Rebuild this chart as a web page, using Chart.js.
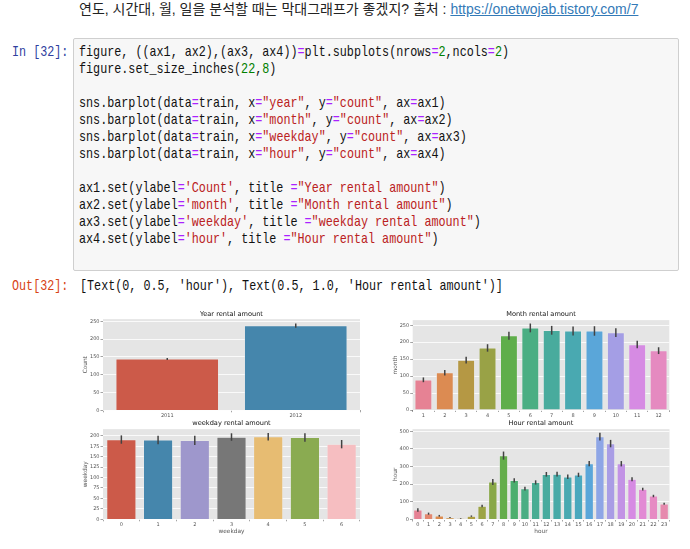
<!DOCTYPE html>
<html>
<head>
<meta charset="utf-8">
<script src="https://cdn.jsdelivr.net/npm/chart.js@4.4.1/dist/chart.umd.min.js"></script>
<style>
  html, body { margin: 0; padding: 0; background: #fff; width: 690px; height: 549px; overflow: hidden; }
  .abs { position: absolute; }
  #intro { left: 79px; top: 0; font-family: "Liberation Sans", "Noto Sans CJK KR", sans-serif; font-size: 14px; line-height: 19px; color: #222; white-space: nowrap; }
  #intro a { color: #337ab7; text-decoration: underline; }
  .mono { font-family: "Liberation Mono", "DejaVu Sans Mono", monospace; font-size: 15px; line-height: 17px; white-space: pre; transform: scaleX(0.783); transform-origin: 0 0; }
  #inp { left: 12px; top: 43.5px; color: #303F9F; }
  #outp { left: 12px; top: 277.5px; color: #D84315; }
  #box { left: 73px; top: 38px; width: 604px; height: 231px; background: #f7f7f7; border: 1px solid #cfcfcf; border-radius: 2px; }
  #code { left: 79px; top: 43.5px; color: #111; }
  #outtxt { left: 80px; top: 277.5px; color: #111; }
  .o { color: #AA22FF; }
  .s { color: #BA2121; }
  .m { color: #008000; }
  canvas { position: absolute; }
</style>
</head>
<body>
<div id="intro" class="abs">연도, 시간대, 월, 일을 분석할 때는 막대그래프가 좋겠지? 출처 : <a href="#">https://onetwojab.tistory.com/7</a></div>
<div id="inp" class="abs mono">In [32]:</div>
<div id="box" class="abs"></div>
<div id="code" class="abs mono">figure, ((ax1, ax2),(ax3, ax4))<span class="o">=</span>plt.subplots(nrows<span class="o">=</span><span class="m">2</span>,ncols<span class="o">=</span><span class="m">2</span>)
figure.set_size_inches(<span class="m">22</span>,<span class="m">8</span>)

sns.barplot(data<span class="o">=</span>train, x<span class="o">=</span><span class="s">"year"</span>, y<span class="o">=</span><span class="s">"count"</span>, ax<span class="o">=</span>ax1)
sns.barplot(data<span class="o">=</span>train, x<span class="o">=</span><span class="s">"month"</span>, y<span class="o">=</span><span class="s">"count"</span>, ax<span class="o">=</span>ax2)
sns.barplot(data<span class="o">=</span>train, x<span class="o">=</span><span class="s">"weekday"</span>, y<span class="o">=</span><span class="s">"count"</span>, ax<span class="o">=</span>ax3)
sns.barplot(data<span class="o">=</span>train, x<span class="o">=</span><span class="s">"hour"</span>, y<span class="o">=</span><span class="s">"count"</span>, ax<span class="o">=</span>ax4)

ax1.set(ylabel<span class="o">=</span><span class="s">'Count'</span>, title <span class="o">=</span><span class="s">"Year rental amount"</span>)
ax2.set(ylabel<span class="o">=</span><span class="s">'month'</span>, title <span class="o">=</span><span class="s">"Month rental amount"</span>)
ax3.set(ylabel<span class="o">=</span><span class="s">'weekday'</span>, title <span class="o">=</span><span class="s">"weekday rental amount"</span>)
ax4.set(ylabel<span class="o">=</span><span class="s">'hour'</span>, title <span class="o">=</span><span class="s">"Hour rental amount"</span>)</div>
<div id="outp" class="abs mono">Out[32]:</div>
<div id="outtxt" class="abs mono">[Text(0, 0.5, 'hour'), Text(0.5, 1.0, 'Hour rental amount')]</div>

<canvas id="c1" width="305" height="117" style="left:60px;top:305px;width:305px;height:117px"></canvas>
<canvas id="c2" width="305" height="117" style="left:370px;top:305px;width:305px;height:117px"></canvas>
<canvas id="c3" width="305" height="130" style="left:60px;top:415px;width:305px;height:130px"></canvas>
<canvas id="c4" width="305" height="130" style="left:370px;top:415px;width:305px;height:130px"></canvas>

<script>
// ---- data ----
const yearLabels = ['2011', '2012'];
const yearCounts = [144, 238];
const yearErr = [3, 6];

const monthLabels = ['1', '2', '3', '4', '5', '6', '7', '8', '9', '10', '11', '12'];
const monthCounts = [89, 110, 147, 183, 219, 242, 235, 233, 233, 228, 193, 175];
const monthErr = [7, 8, 10, 11, 12, 13, 13, 13, 14, 13, 11, 10];

const weekdayLabels = ['0', '1', '2', '3', '4', '5', '6'];
const weekdayCounts = [191, 190, 189, 197, 198, 196, 180];
const weekdayErr = [10, 10, 11, 9, 9, 10, 10];

const hourLabels = ['0','1','2','3','4','5','6','7','8','9','10','11','12','13','14','15','16','17','18','19','20','21','22','23'];
const hourCounts = [54, 33, 21, 11, 6, 19, 76, 213, 362, 222, 175, 210, 256, 257, 242, 253, 316, 469, 430, 316, 228, 172, 133, 89];
const hourErr = [10, 6, 5, 3, 2, 4, 7, 17, 23, 12, 11, 12, 13, 13, 13, 12, 15, 22, 21, 15, 11, 8, 7, 6];

const yTicks1 = { max: 256, step: 50 };
const yTicks2 = { max: 265, step: 50 };
const yTicks3 = { max: 216, step: 25 };
const yTicks4 = { max: 512, step: 100 };

// ---- styles ----
const yearColors = ['#cc5a49', '#4586ac'];
const monthColors = ['#e68294', '#dc8b52', '#b59844', '#99a246', '#5fae4b', '#4aae83', '#48ab9d', '#49a9b1', '#5aa6d9', '#a49ee5', '#d68be3', '#e58ac0'];
const weekdayColors = ['#cc5a49', '#4586ac', '#9e97cc', '#777777', '#e7bc72', '#8aab51', '#f6bec1'];
const hourColors = ['#e68294', '#e3876f', '#dc8b4f', '#cc9144', '#c09943', '#ae9e43', '#9ca445', '#89a847', '#64ad4b', '#4cae6e', '#4aae84', '#49ad93', '#48ab9e', '#48aaa7', '#49a9b1', '#4aa8bd', '#5aa6d9', '#8ea6e6', '#a99de5', '#c293e5', '#d68be3', '#e28ad4', '#e68bc3', '#e68aae'];

Chart.defaults.font.family = 'DejaVu Sans';

const bgPlugin = {
  id: 'ggBg',
  beforeDraw(chart) {
    const a = chart.chartArea, ctx = chart.ctx;
    ctx.save();
    ctx.fillStyle = '#E5E5E5';
    ctx.fillRect(a.left, a.top, a.right - a.left, a.bottom - a.top);
    ctx.restore();
  }
};

const errPlugin = {
  id: 'errBars',
  afterDatasetsDraw(chart) {
    const ds = chart.data.datasets[0];
    const xs = chart.scales.x, ys = chart.scales.y, ctx = chart.ctx;
    ctx.save();
    ctx.strokeStyle = '#424242';
    ctx.lineWidth = 1.5;
    ds.data.forEach((v, i) => {
      const px = xs.getPixelForValue(i);
      ctx.beginPath();
      ctx.moveTo(px, ys.getPixelForValue(v - ds.errors[i]));
      ctx.lineTo(px, ys.getPixelForValue(v + ds.errors[i]));
      ctx.stroke();
    });
    ctx.restore();
  }
};

function makeChart(id, labels, values, errs, colors, yt, cfg) {
  new Chart(document.getElementById(id), {
    type: 'bar',
    data: {
      labels: labels,
      datasets: [{
        data: values,
        errors: errs,
        backgroundColor: colors,
        borderColor: '#eeeeee',
        borderWidth: 0.6,
        categoryPercentage: 0.8,
        barPercentage: 1
      }]
    },
    plugins: [bgPlugin, errPlugin],
    options: {
      responsive: false,
      animation: false,
      events: [],
      layout: { padding: { left: 0, right: cfg.pr, top: 0, bottom: 0 } },
      plugins: {
        legend: { display: false },
        tooltip: { enabled: false },
        title: {
          display: true, text: cfg.title, fullSize: false, color: '#111',
          font: { size: 6.6, weight: 'normal' },
          padding: { top: cfg.tt, bottom: cfg.tb }
        }
      },
      scales: {
        x: {
          grid: { display: true, drawOnChartArea: false, tickLength: 2, tickColor: '#666', tickWidth: 0.6 },
          border: { display: false },
          ticks: { color: '#555', font: { size: 5 }, padding: 0.5, autoSkip: false, maxRotation: 0 },
          title: cfg.xTitle ? { display: true, text: cfg.xTitle, color: '#555', font: { size: 5.8 }, padding: { top: 0, bottom: 10 } } : { display: false },
          afterFit(s) { s.height = cfg.xh; }
        },
        y: {
          min: 0, max: yt.max,
          ticks: { stepSize: yt.step, includeBounds: false, color: '#555', font: { size: 5 }, padding: 1 },
          grid: { color: '#ffffff', lineWidth: 0.8, tickLength: 2.5, tickColor: '#666', tickWidth: 0.6 },
          border: { display: false },
          title: { display: true, text: cfg.yTitle, color: '#555', font: { size: 5.8 }, padding: { top: 22, bottom: 0 } },
          afterFit(s) { s.width = cfg.yw; }
        }
      }
    }
  });
}

makeChart('c1', yearLabels, yearCounts, yearErr, yearColors, yTicks1,
  { title: 'Year rental amount', yTitle: 'Count', pr: 5, tt: 5.1, tb: 1.1, yw: 43, xh: 11.7 });
makeChart('c2', monthLabels, monthCounts, monthErr, monthColors, yTicks2,
  { title: 'Month rental amount', yTitle: 'month', pr: 5.7, tt: 5.1, tb: 2.1, yw: 42.7, xh: 12 });
makeChart('c3', weekdayLabels, weekdayCounts, weekdayErr, weekdayColors, yTicks3,
  { title: 'weekday rental amount', yTitle: 'weekday', xTitle: 'weekday', pr: 5, tt: 4.8, tb: 1.4, yw: 43, xh: 25.7 });
makeChart('c4', hourLabels, hourCounts, hourErr, hourColors, yTicks4,
  { title: 'Hour rental amount', yTitle: 'hour', xTitle: 'hour', pr: 5.5, tt: 4.8, tb: 1.4, yw: 42.5, xh: 25.5 });
</script>
</body>
</html>
